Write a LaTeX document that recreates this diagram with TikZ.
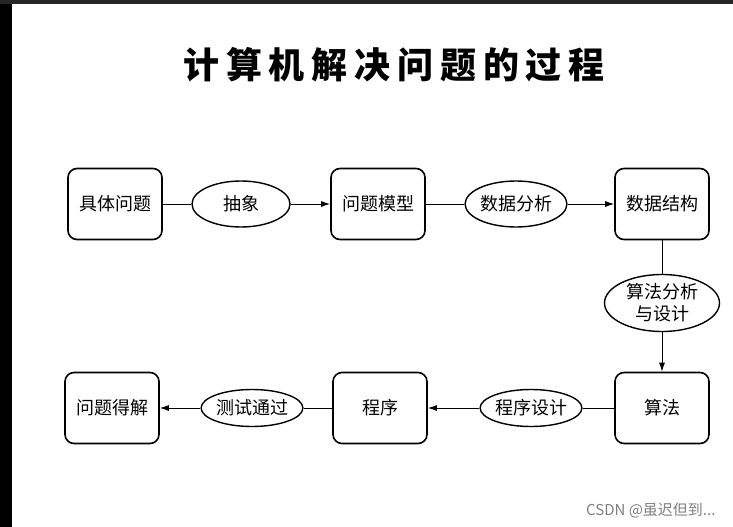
\documentclass[tikz,border=0pt]{standalone}
\usepackage{fontspec}
\newfontfamily\cjk{Noto Sans CJK SC}
\newfontfamily\titlecjk{Noto Sans CJK SC}[LetterSpace=19]
\usetikzlibrary{shapes.geometric}
\usepgflibrary{arrows.meta}
\tikzset{
  kuang/.style={draw,line width=1.6pt,rounded corners=9pt,minimum width=94pt,minimum height=71pt,inner sep=0pt},
  tuoyuan/.style={ellipse,draw,line width=1.4pt,inner sep=0pt,minimum width=98pt,minimum height=46pt},
  lian/.style={line width=1pt},
  jian/.style={line width=1pt,-{Latex[length=9pt,width=6pt]}}
}
\begin{document}
\begin{tikzpicture}[x=1pt,y=-1pt,font=\cjk\fontsize{18}{22}\selectfont]
        %背景与边框
        \fill[white] (0,0) rectangle (733,527);
        \fill[black] (0,0) rectangle (12,527);
        \fill[black!85] (0,0) rectangle (733,4);
        \useasboundingbox (0,0) rectangle (733,527);
        %标题
        \node (biaoti) at (394,65) {\titlecjk\bfseries\fontsize{36}{40}\selectfont 计算机解决问题的过程};
        %第一行
        \node[kuang] (juti) at (115,204) {具体问题};
        \node[tuoyuan] (chouxiang) at (241,204) {抽象};
        \node[kuang] (moxing) at (378,204) {问题模型};
        \node[tuoyuan] (shujufx) at (516,204) {数据分析};
        \node[kuang] (jiegou) at (662,204) {数据结构};
        %中间
        \node[tuoyuan,minimum width=115pt,minimum height=57pt,align=center] (suanfafx) at (662,303) {算法分析\\与设计};
        %第二行
        \node[kuang] (suanfa) at (662,408) {算法};
        \node[tuoyuan,minimum height=37pt] (chengxusj) at (531,408) {程序设计};
        \node[kuang] (chengxu) at (380,408) {程序};
        \node[tuoyuan,minimum height=37pt] (ceshi) at (252,408) {测试通过};
        \node[kuang] (dejie) at (112,408) {问题得解};
        %连线
        \draw[lian] (juti) -- (chouxiang);
        \draw[jian] (chouxiang) -- (moxing);
        \draw[lian] (moxing) -- (shujufx);
        \draw[jian] (shujufx) -- (jiegou);
        \draw[lian] (jiegou) -- (suanfafx);
        \draw[jian] (suanfafx) -- (suanfa);
        \draw[lian] (suanfa) -- (chengxusj);
        \draw[jian] (chengxusj) -- (chengxu);
        \draw[lian] (chengxu) -- (ceshi);
        \draw[jian] (ceshi) -- (dejie);
        %水印
        \node[anchor=east,text=black!50,font=\cjk\fontsize{15}{17}\selectfont] (shuiyin) at (719,511) {CSDN @虽迟但到...};
\end{tikzpicture}
\end{document}
